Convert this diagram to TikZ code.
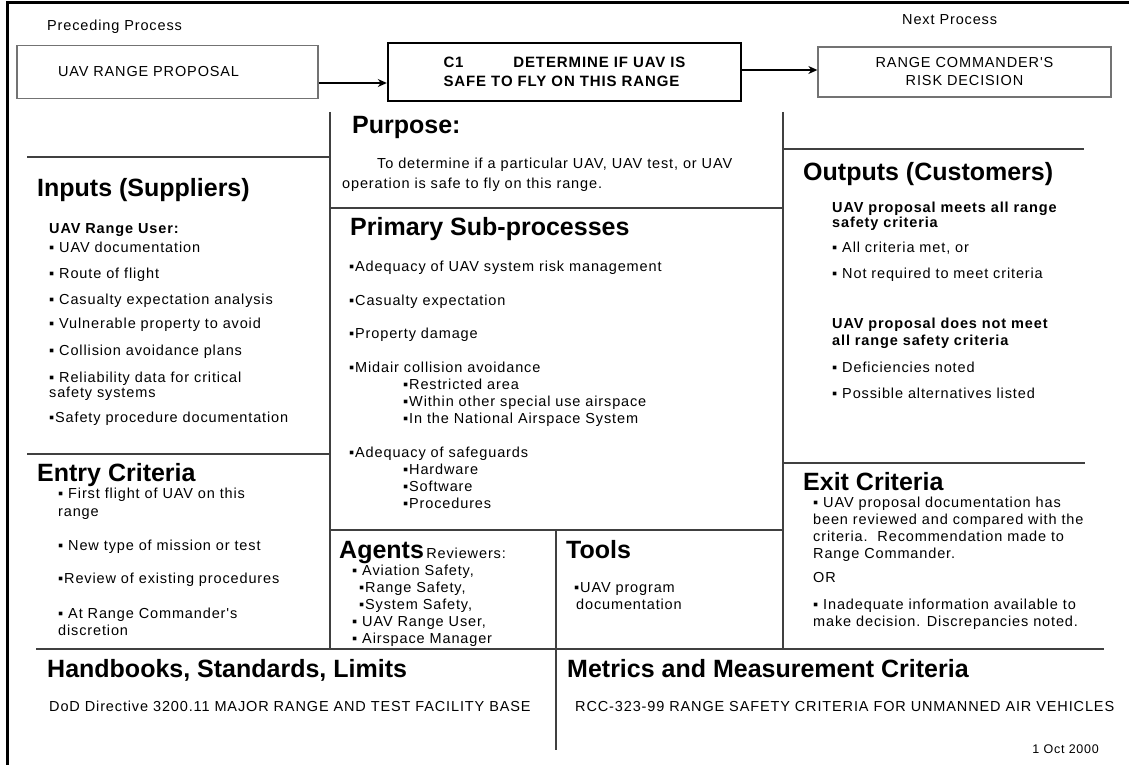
\documentclass[tikz,border=0pt]{standalone}
\usepackage{fontspec}
\setmainfont{Liberation Sans}
\newfontfamily\txtfont[LetterSpace=6]{Liberation Sans}
\usetikzlibrary{arrows.meta}
\tikzset{
  outerline/.style={line width=3pt},
  rule/.style={draw=black!75,line width=1.3pt},
  procbox/.style={draw=black!55,line width=1.3pt,align=center,inner sep=0pt,
    font=\txtfont\fontsize{14.5}{18}\selectfont},
  mainbox/.style={draw,line width=2.4pt,align=left,text width=242pt,inner xsep=55.5pt,
    minimum height=58pt,font=\txtfont\bfseries\fontsize{15}{19}\selectfont},
  flow/.style={-{Stealth[length=9pt,width=8pt]},line width=1.3pt},
  head/.style={anchor=west,inner sep=0pt,text height=17.5pt,text depth=0pt,
    font=\bfseries\fontsize{25}{29}\selectfont},
  item/.style={anchor=west,inner sep=0pt,text height=10.4pt,text depth=0pt,
    font=\txtfont\fontsize{14.5}{17}\selectfont},
  subhead/.style={item,font=\txtfont\bfseries\fontsize{14.5}{17}\selectfont}
}
\begin{document}
\begin{tikzpicture}[x=1pt,y=-1pt]
\useasboundingbox (0,0) rectangle (1129,765);
\pgfmathsetmacro{\cA}{330}
\pgfmathsetmacro{\cB}{556}
\pgfmathsetmacro{\cC}{783}
\pgfmathsetmacro{\rBot}{649}
% frame
\draw[outerline] (1129,3) -- (7,3) -- (7,765);
% process chain
\node[item] (prevlbl) at (47,25) {Preceding Process};
\node[item] (nextlbl) at (902,19) {Next Process};
\node[procbox,align=left,text width=219pt,inner xsep=41pt,minimum height=53pt] (prop) at (167.5,72) {UAV RANGE PROPOSAL};
\node[mainbox] (c1) at (564.5,72) {C1\hfill DETERMINE IF UAV IS\\SAFE TO FLY ON THIS RANGE};
\node[procbox,minimum width=293pt,minimum height=50pt] (risk) at (964.5,72) {RANGE COMMANDER'S\\RISK DECISION};
\draw[flow] ([yshift=-11pt]prop.east) -- ([yshift=-11pt]c1.west);
\draw[flow] ([yshift=2pt]c1.east) -- ([yshift=2pt]risk.west);
% grid
\draw[rule] (\cA,112) -- (\cA,\rBot);
\draw[rule] (\cC,112) -- (\cC,\rBot);
\draw[rule] (\cB,530) -- (\cB,750);
\draw[rule] (27,157) -- (\cA,157);
\draw[rule] (\cC,149) -- (1084,149);
\draw[rule] (\cA,208) -- (\cC,208);
\draw[rule] (27,454) -- (\cA,454);
\draw[rule] (\cC,463) -- (1085,463);
\draw[rule] (\cA,530) -- (\cC,530);
\draw[rule] (36,\rBot) -- (1104,\rBot);
% inputs
\node[head] (inhead) at (37,188) {Inputs (Suppliers)};
\node[subhead] (inuser) at (49,228) {UAV Range User:};
\foreach \y/\t [count=\i] in {247/{▪ UAV documentation},273/{▪ Route of flight},
  299/{▪ Casualty expectation analysis},323/{▪ Vulnerable property to avoid},
  350/{▪ Collision avoidance plans},377/{▪ Reliability data for critical},
  392/{safety systems},417/{▪Safety procedure documentation}}
  \node[item] (inp\i) at (49,\y) {\t};
% entry
\node[head] (enhead) at (37,473) {Entry Criteria};
\foreach \y/\t [count=\i] in {493/{▪ First flight of UAV on this},511/{range},
  545/{▪ New type of mission or test},578/{▪Review of existing procedures},
  613/{▪ At Range Commander's},630/{discretion}}
  \node[item] (ent\i) at (58,\y) {\t};
% purpose
\node[head] (puhead) at (352,125) {Purpose:};
\node[item] (pu1) at (377,163) {To determine if a particular UAV, UAV test, or UAV};
\node[item] (pu2) at (342,183) {operation is safe to fly on this range.};
% sub-processes
\node[head] (sphead) at (350,227) {Primary Sub-processes};
\foreach \y/\t [count=\i] in {266/{▪Adequacy of UAV system risk management},
  300/{▪Casualty expectation},333/{▪Property damage},
  367/{▪Midair collision avoidance},452/{▪Adequacy of safeguards}}
  \node[item] (sp\i) at (349,\y) {\t};
\foreach \y/\t [count=\i] in {384/{▪Restricted area},401/{▪Within other special use airspace},
  418/{▪In the National Airspace System},469/{▪Hardware},486/{▪Software},503/{▪Procedures}}
  \node[item] (ssp\i) at (403,\y) {\t};
% outputs
\node[head] (ouhead) at (803,172) {Outputs (Customers)};
\foreach \y/\t [count=\i] in {207/{UAV proposal meets all range},222/{safety criteria},
  323/{UAV proposal does not meet},340/{all range safety criteria}}
  \node[subhead] (osub\i) at (832,\y) {\t};
\foreach \y/\t [count=\i] in {247/{▪ All criteria met, or},273/{▪ Not required to meet criteria},
  367/{▪ Deficiencies noted},393/{▪ Possible alternatives listed}}
  \node[item] (out\i) at (832,\y) {\t};
% exit
\node[head] (exhead) at (803,482) {Exit Criteria};
\foreach \y/\t [count=\i] in {502/{▪ UAV proposal documentation has},
  519/{been reviewed and compared with the},536/{criteria.\ \ Recommendation made to},
  553/{Range Commander.},577/{OR},604/{▪ Inadequate information available to},
  621/{make decision. Discrepancies noted.}}
  \node[item] (ex\i) at (813,\y) {\t};
% agents
\node[head] (aghead) at (339,550) {Agents};
\node[item,anchor=base west,xshift=2pt] (agrev) at (aghead.base east) {Reviewers:};
\foreach \x/\y/\t [count=\i] in {352/570/{▪ Aviation Safety,},359/587/{▪Range Safety,},
  359/604/{▪System Safety,},352/621/{▪ UAV Range User,},352/638/{▪ Airspace Manager}}
  \node[item] (ag\i) at (\x,\y) {\t};
% tools
\node[head] (tohead) at (566,550) {Tools};
\node[item] (to1) at (574,587) {▪UAV program};
\node[item] (to2) at (576,604) {documentation};
% bottom
\node[head] (hbhead) at (47,669) {Handbooks, Standards, Limits};
\node[item] (hb1) at (49,706) {DoD Directive 3200.11 MAJOR RANGE AND TEST FACILITY BASE};
\node[head] (mehead) at (567,669) {Metrics and Measurement Criteria};
\node[item] (me1) at (575,706) {RCC-323-99 RANGE SAFETY CRITERIA FOR UNMANNED AIR VEHICLES};
\node[item,anchor=east,font=\txtfont\fontsize{12.5}{15}\selectfont] (date) at (1099,748) {1 Oct 2000};
\end{tikzpicture}
\end{document}
